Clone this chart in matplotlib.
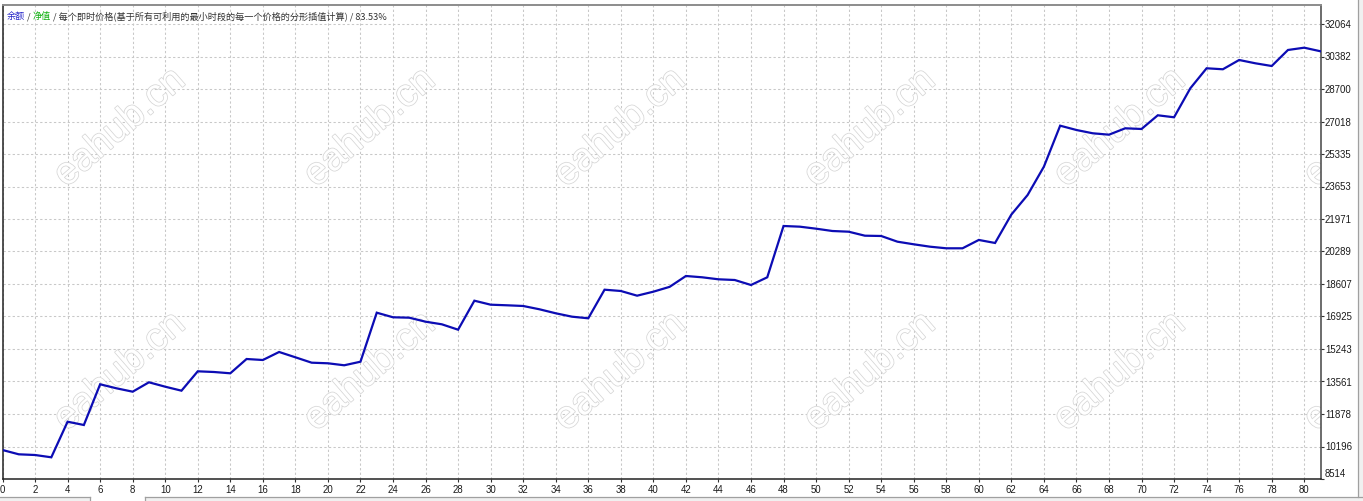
import matplotlib
matplotlib.use("Agg")
import matplotlib.pyplot as plt
import matplotlib.patheffects as pe
from matplotlib.lines import Line2D
from matplotlib.patches import Rectangle
import numpy as np

# balance after each trade
balance = [10015, 9792, 9756, 9637, 11480, 11309, 13416, 13209, 13033, 13519,
           13291, 13085, 14088, 14052, 13985, 14725, 14673, 15088, 14813, 14534,
           14503, 14400, 14585, 17122, 16884, 16863, 16656, 16521, 16242, 17743,
           17536, 17505, 17469, 17298, 17091, 16915, 16832, 18312, 18245, 18002,
           18209, 18460, 19021, 18954, 18850, 18814, 18555, 18954, 21609, 21574,
           21470, 21350, 21314, 21107, 21092, 20797, 20662, 20538, 20455, 20455,
           20887, 20730, 22200, 23214, 24679, 26801, 26578, 26408, 26335, 26666,
           26630, 27339, 27236, 28737, 29772, 29721, 30201, 30030, 29890, 30719,
           30838, 30652]
trades = list(range(len(balance)))

y_tick_labels = ["8514", "10196", "11878", "13561", "15243", "16925", "18607",
                 "20289", "21971", "23653", "25335", "27018", "28700", "30382",
                 "32064"]
x_ticks = list(range(0, 81, 2))

header_parts = [("余额", "#2424c8"), (" / ", "#333333"), ("净值", "#10b010"),
                (" / 每个即时价格(基于所有可利用的最小时段的每一个价格的分形插值计算) / 83.53%", "#333333")]
watermark = "eahub.cn"

W, H = 1363, 501
fig = plt.figure(figsize=(W / 100, H / 100), dpi=100)
fig.patch.set_facecolor("white")


def fx(px):
    return px / W


def fy(py):
    return 1 - py / H


ax = fig.add_axes([fx(2.5), fy(479), fx(1320.5) - fx(2.5), fy(5) - fy(479)])

y_lo, y_hi = 8514.0, 32064.0
y_step = (y_hi - y_lo) / 14
y_ticks = [y_lo + i * y_step for i in range(15)]
ax.set_xlim(0, 81)
ax.set_ylim(y_lo, y_lo + y_step * 474 / 32.5)

ax.set_xticks(x_ticks)
ax.set_xticklabels([str(t) for t in x_ticks])
ax.set_yticks(y_ticks)
ax.set_yticklabels(y_tick_labels)
ax.yaxis.tick_right()
ax.tick_params(axis="both", direction="out", length=2.2, width=0.8,
               colors="#333333", labelsize=6.9, labelcolor="#1a1a1a")
ax.tick_params(axis="x", pad=1.8)
ax.tick_params(axis="y", pad=1.0)
for lab in ax.get_xticklabels() + ax.get_yticklabels():
    lab.set_family("Liberation Sans")
ax.get_yticklabels()[0].set_va("bottom")

ax.grid(True, color="#c8c8c8", linestyle=(0, (2.2, 2.2)), linewidth=0.75)
ax.set_axisbelow(True)

for side in ["left", "bottom"]:
    ax.spines[side].set_color("#222222")
    ax.spines[side].set_linewidth(1.1)
ax.spines["right"].set_color("#444444")
ax.spines["right"].set_linewidth(1.1)
ax.spines["top"].set_color("#8c8c8c")
ax.spines["top"].set_linewidth(1.4)

# watermark, clipped to the plot area
for cy in [128, 372]:
    for cx in [120, 370, 620, 870, 1120, 1370]:
        t = ax.text(fx(cx), fy(cy), watermark, transform=fig.transFigure,
                    fontsize=28, family="Liberation Sans", rotation=41,
                    ha="center", va="center", color="white", zorder=1,
                    path_effects=[pe.withStroke(linewidth=1.1, foreground="#d6d6d6")])
        t.set_clip_on(True)
        t.set_clip_path(ax.patch)

ax.plot(trades, balance, color="#0c0cb4", linewidth=1.6, zorder=3,
        solid_joinstyle="miter")

# header line with coloured pieces
prev = ax.text(0.003, 0.985, header_parts[0][0], transform=ax.transAxes,
               fontsize=6.6, color=header_parts[0][1], ha="left", va="top",
               family=["Noto Sans CJK SC", "DejaVu Sans"], zorder=4)
for txt, col in header_parts[1:]:
    prev = ax.annotate(txt, xy=(1, 0), xycoords=prev, ha="left", va="bottom",
                       fontsize=6.6, color=col,
                       family=["Noto Sans CJK SC", "DejaVu Sans"], zorder=4)

# window chrome: bottom tab strip and right edge
grey = "#a0a0a0"
fill = "#f0f0f0"
fig.add_artist(Rectangle((fx(0), fy(501)), fx(90), fy(497) - fy(501),
                         transform=fig.transFigure, color=fill, lw=0))
fig.add_artist(Rectangle((fx(145), fy(501)), fx(W - 145), fy(497) - fy(501),
                         transform=fig.transFigure, color=fill, lw=0))
fig.add_artist(Rectangle((fx(1358), fy(497)), fx(5), fy(0) - fy(497),
                         transform=fig.transFigure, color=fill, lw=0))
for (x0, y0, x1, y1) in [(0, 497, 90, 497), (90, 497, 90, 501),
                         (145, 497, W, 497), (145, 497, 145, 501),
                         (1358, 0, 1358, 497)]:
    fig.add_artist(Line2D([fx(x0), fx(x1)], [fy(y0), fy(y1)],
                          transform=fig.transFigure, color=grey, lw=0.9))

fig.savefig("out.png", dpi=100, facecolor="white")
